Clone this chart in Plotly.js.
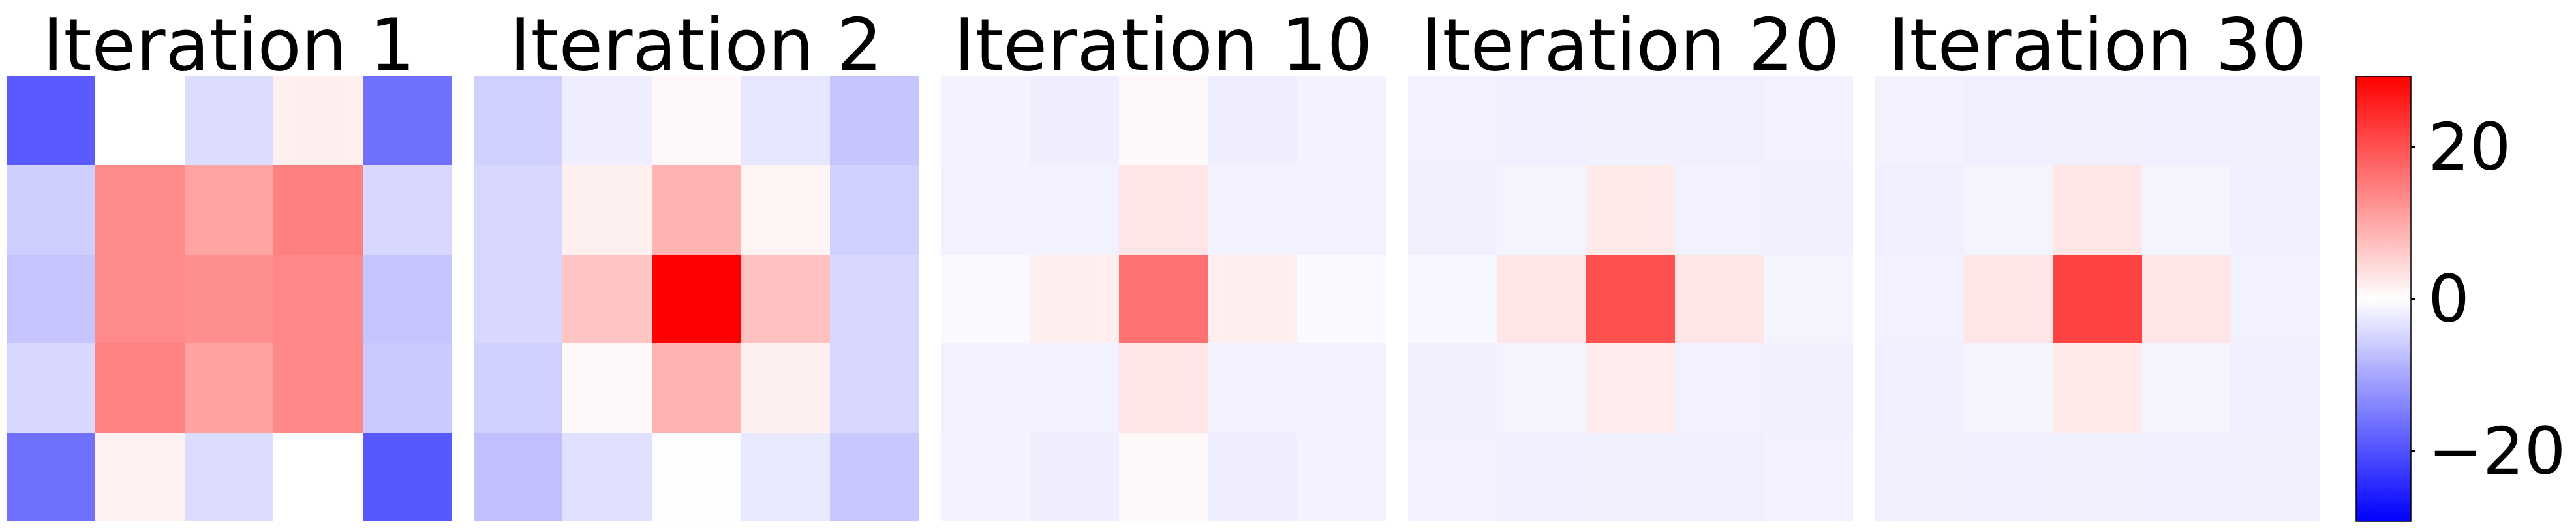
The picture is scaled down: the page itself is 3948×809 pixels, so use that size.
<!DOCTYPE html>
<html>
<head>
<meta charset="utf-8">
<script src="https://cdn.plot.ly/plotly-3.0.1.min.js"></script>
<style>html,body{margin:0;padding:0;background:#fff;}#chart{width:3948px;height:809px;}</style>
</head>
<body>
<div id="chart"></div>
<script>
// Panel titles
const panelTitles = ["Iteration 1", "Iteration 2", "Iteration 10", "Iteration 20", "Iteration 30"];

// Grid values, rows listed top to bottom as shown in the picture
const iter1 = [
  [-19.0,  0.0, -4.0,  1.8, -16.4],
  [ -5.6, 13.4, 10.6, 14.6,  -4.6],
  [ -6.8, 13.4, 13.0, 13.7,  -6.8],
  [ -4.6, 14.4, 10.7, 13.7,  -6.1],
  [-16.4,  1.6, -4.0,  0.0, -19.2]
];
const iter2 = [
  [-5.4, -2.0, 0.8, -2.9, -6.5],
  [-4.5,  1.7, 8.7,  1.3, -5.4],
  [-4.5,  6.8, 29.3, 7.2, -4.5],
  [-5.4,  0.8, 8.7,  1.7, -4.5],
  [-7.2, -3.6, -0.2, -2.6, -6.3]
];
const iter10 = [
  [-1.4, -2.0, 0.8, -2.0, -1.4],
  [-1.6, -1.5, 2.9, -1.5, -1.6],
  [-0.7,  2.0, 16.4, 2.0, -0.7],
  [-1.6, -1.5, 2.9, -1.5, -1.6],
  [-1.4, -2.0, 0.8, -2.0, -1.4]
];
const iter20 = [
  [-1.6, -1.8, -1.7, -1.8, -1.6],
  [-1.7, -1.3,  2.4, -1.5, -1.7],
  [-0.9,  2.9, 20.1,  2.9, -1.3],
  [-1.7, -1.3,  2.2, -1.6, -1.7],
  [-1.6, -1.8, -1.7, -1.8, -1.6]
];
const iter30 = [
  [-1.5, -1.8, -1.7, -1.8, -1.7],
  [-1.8, -1.3,  2.9, -1.3, -1.8],
  [-1.6,  2.9, 21.7,  2.9, -1.6],
  [-1.8, -1.3,  2.4, -1.3, -1.8],
  [-1.7, -1.8, -1.7, -1.8, -1.7]
];
const colIdx = [0, 1, 2, 3, 4];
const rowIdx = [0, 1, 2, 3, 4];
const colorTicks = [-20, 0, 20];
const colorMin = -29.3, colorMax = 29.3;

const grids = [iter1, iter2, iter10, iter20, iter30];

const W = 3948, H = 809;
const panelLeft0 = 10, panelW = 682, panelStep = 716;
const panelTop = 117, panelBottom = 799;

const traces = [];
const layout = {
  width: W, height: H,
  margin: {l: 0, r: 0, t: 0, b: 0},
  paper_bgcolor: "#ffffff",
  plot_bgcolor: "#ffffff",
  showlegend: false,
  font: {family: "DejaVu Sans", color: "#000000"},
  coloraxis: {
    cmin: colorMin, cmax: colorMax,
    colorscale: [[0, "rgb(0,0,255)"], [0.5, "rgb(255,255,255)"], [1, "rgb(255,0,0)"]],
    colorbar: {
      x: 3611 / W, xanchor: "left", xpad: 0,
      y: 1 - (panelTop + panelBottom) / 2 / H, yanchor: "middle", ypad: 0,
      len: (panelBottom - panelTop) / H, lenmode: "fraction",
      thickness: 84, thicknessmode: "pixels",
      outlinewidth: 1.5, outlinecolor: "#000000",
      ticks: "outside", ticklen: 6, tickwidth: 1.5, tickcolor: "#000000",
      tickmode: "array", tickvals: colorTicks,
      tickfont: {family: "DejaVu Sans", size: 100, color: "#000000"}
    }
  },
  annotations: []
};

grids.forEach((g, i) => {
  const ax = i === 0 ? "" : String(i + 1);
  traces.push({
    type: "heatmap",
    z: g, x: colIdx, y: rowIdx,
    coloraxis: "coloraxis",
    xaxis: "x" + ax, yaxis: "y" + ax,
    xgap: 0, ygap: 0,
    hoverinfo: "z"
  });
  const l = panelLeft0 + i * panelStep;
  layout["xaxis" + ax] = {
    domain: [l / W, (l + panelW) / W],
    range: [-0.5, 4.5],
    showticklabels: false, showgrid: false, zeroline: false, showline: false, ticks: "",
    anchor: "y" + ax
  };
  layout["yaxis" + ax] = {
    domain: [1 - panelBottom / H, 1 - panelTop / H],
    range: [4.5, -0.5],
    showticklabels: false, showgrid: false, zeroline: false, showline: false, ticks: "",
    anchor: "x" + ax
  };
  layout.annotations.push({
    text: panelTitles[i],
    xref: "paper", yref: "paper",
    x: (l + panelW / 2) / W, y: 1 - 69 / H,
    xanchor: "center", yanchor: "middle",
    showarrow: false,
    font: {family: "DejaVu Sans", size: 110, color: "#000000"}
  });
});

Plotly.newPlot("chart", traces, layout, {staticPlot: true, displayModeBar: false});
</script>
</body>
</html>
